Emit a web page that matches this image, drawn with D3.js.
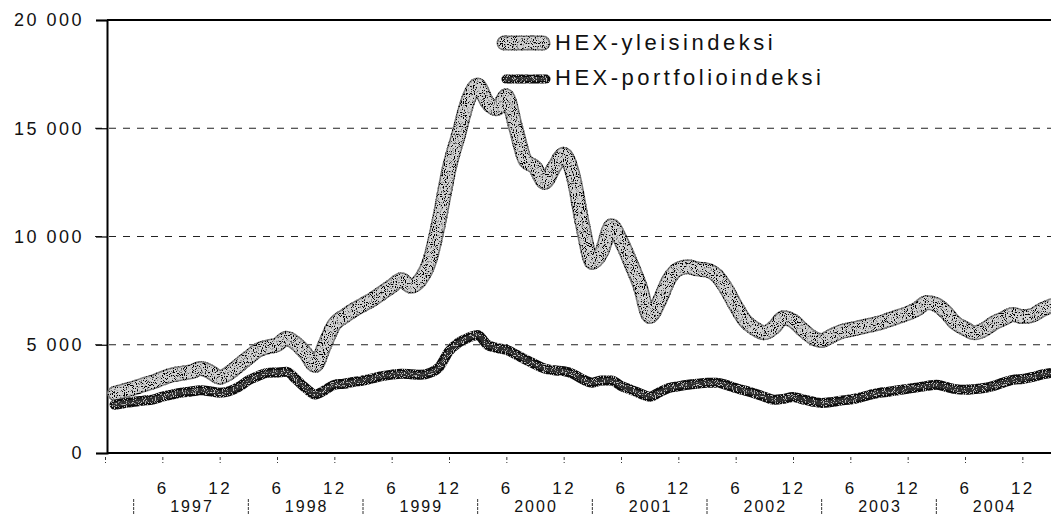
<!DOCTYPE html>
<html>
<head>
<meta charset="utf-8">
<script src="https://cdn.jsdelivr.net/npm/d3@7"></script>
<style>
  body { margin: 0; background: #fff; }
  text { font-family: "Liberation Sans", Arial, sans-serif; fill: #111; }
</style>
</head>
<body>
<svg id="chart" width="1051" height="515"></svg>
<script>
// month index 1..99 (0 = axis start, ticks every 6 months)
var months = d3.range(1, 100);

var yleis = [2750, 2880, 3000, 3150, 3280, 3450, 3600, 3680, 3750, 3900,
    3750, 3500, 3700, 4050, 4400, 4750, 4900, 5000, 5300, 5050,
    4600, 4050, 5000, 5950, 6300, 6600, 6850, 7100, 7400, 7700,
    8000, 7700, 8000, 8900, 10800, 13100, 14700, 16300, 17000, 16200,
    15900, 16500, 15000, 13500, 13200, 12500, 13200, 13800, 12800, 10500,
    8800, 9300, 10500, 9800, 8800, 7700, 6300, 7000, 8000, 8500,
    8600, 8500, 8450, 8200, 7600, 6800, 6100, 5750, 5550, 5800,
    6250, 6100, 5700, 5350, 5200, 5400, 5600, 5700, 5800, 5900,
    6000, 6150, 6300, 6450, 6650, 6950, 6850, 6500, 6000, 5750,
    5550, 5700, 6000, 6200, 6400, 6300, 6350, 6600, 6800];

var portfolio = [2230, 2300, 2370, 2420, 2470, 2600, 2700, 2790, 2840, 2900,
    2850, 2780, 2850, 3050, 3350, 3550, 3700, 3720, 3750, 3400,
    3000, 2700, 2900, 3150, 3200, 3280, 3350, 3450, 3550, 3620,
    3660, 3640, 3610, 3700, 3980, 4700, 5100, 5320, 5450, 5000,
    4850, 4770, 4550, 4320, 4100, 3900, 3820, 3780, 3650, 3400,
    3250, 3350, 3350, 3100, 2930, 2750, 2600, 2800, 3000, 3080,
    3150, 3200, 3240, 3240, 3150, 3000, 2880, 2750, 2600, 2460,
    2500, 2590, 2480, 2380, 2310, 2350, 2420, 2470, 2560, 2680,
    2780, 2830, 2900, 2960, 3030, 3100, 3150, 3050, 2950, 2920,
    2950, 3000, 3100, 3250, 3380, 3420, 3500, 3620, 3700];

var yTicks = [0, 5000, 10000, 15000, 20000];
var monthTicks = d3.range(0, 97, 6);
var years = ["1997", "1998", "1999", "2000", "2001", "2002", "2003", "2004"];
var legendNames = ["HEX-yleisindeksi", "HEX-portfolioindeksi"];

var svg = d3.select("#chart");
var x0 = 107, yTop = 20, yBot = 453;

var x = d3.scaleLinear().domain([0, 99]).range([105, 1051]);
var y = d3.scaleLinear().domain([0, 20000]).range([yBot, yTop]);

var fmt = d3.formatLocale({decimal: ",", thousands: " ", grouping: [3], currency: ["", ""]}).format(",");

// stipple texture for the thick lines
var defs = svg.append("defs");
function stipple(id, k, b, shade) {
    var f = defs.append("filter").attr("id", id)
        .attr("filterUnits", "userSpaceOnUse")
        .attr("x", 0).attr("y", 0).attr("width", 1051).attr("height", 515);
    f.append("feTurbulence").attr("type", "fractalNoise")
        .attr("baseFrequency", 0.9).attr("numOctaves", 1).attr("seed", 4).attr("result", "n");
    f.append("feColorMatrix").attr("in", "n").attr("type", "matrix")
        .attr("values", "0 0 0 0 " + shade + "  0 0 0 0 " + shade + "  0 0 0 0 " + shade + "  " + k + " 0 0 0 " + b)
        .attr("result", "dots");
    f.append("feComposite").attr("in", "dots").attr("in2", "SourceAlpha").attr("operator", "in").attr("result", "d2");
    var m = f.append("feMerge");
    m.append("feMergeNode").attr("in", "SourceGraphic");
    m.append("feMergeNode").attr("in", "d2");
}
stipple("grain1", 10, -5.2, 0);
stipple("grain2", 10, -5.6, 0.55);

// grid lines
svg.append("g").selectAll("line")
    .data(yTicks.filter(function(d) { return d > 0 && d < 20000; }))
    .enter().append("line")
    .attr("x1", 95).attr("x2", 1051)
    .attr("y1", function(d) { return y(d); })
    .attr("y2", function(d) { return y(d); })
    .attr("stroke", "#222").attr("stroke-width", 1.2)
    .attr("stroke-dasharray", "7,7");

// y axis
var yAxis = svg.append("g")
    .attr("transform", "translate(" + x0 + ",0)")
    .call(d3.axisLeft(y).tickValues(yTicks).tickSize(11).tickPadding(12).tickFormat(fmt));
yAxis.select(".domain").attr("stroke", "#000").attr("stroke-width", 2);
yAxis.selectAll(".tick line").attr("stroke", "#000").attr("stroke-width", 1.2);
yAxis.selectAll(".tick text")
    .style("font-size", "18px").style("letter-spacing", "2.5px")
    .style("font-family", "'Liberation Sans', Arial, sans-serif").attr("fill", "#111");

// top border
svg.append("line")
    .attr("x1", x0).attr("x2", 1051).attr("y1", y(20000)).attr("y2", y(20000))
    .attr("stroke", "#000").attr("stroke-width", 2);

// x axis
var xAxis = svg.append("g")
    .attr("transform", "translate(0," + yBot + ")")
    .call(d3.axisBottom(x).tickValues(monthTicks).tickSize(10)
        .tickFormat(function(d) { return d === 0 ? "" : (d % 12 === 6 ? "6" : "12"); }));
xAxis.select(".domain").attr("stroke", "#000").attr("stroke-width", 2)
    .attr("d", "M" + x0 + ",0H1051");
xAxis.selectAll(".tick line").attr("stroke", "#333").attr("stroke-width", 1)
    .attr("y1", 4).attr("stroke-dasharray", "3,2");
xAxis.selectAll(".tick text")
    .attr("y", 41).attr("dy", null)
    .style("font-size", "17px").style("letter-spacing", "2.5px")
    .style("font-family", "'Liberation Sans', Arial, sans-serif").attr("fill", "#111");

// years
var yr = svg.append("g");
yr.selectAll("line").data(years).enter().append("line")
    .attr("x1", function(d, i) { return x(3 + 12 * i); })
    .attr("x2", function(d, i) { return x(3 + 12 * i); })
    .attr("y1", 499).attr("y2", 514)
    .attr("stroke", "#333").attr("stroke-width", 1).attr("stroke-dasharray", "3,1");
yr.selectAll("text").data(years).enter().append("text")
    .attr("x", function(d, i) { return x(9 + 12 * i) + 1; })
    .attr("y", 512)
    .attr("text-anchor", "middle")
    .style("font-size", "16px").style("letter-spacing", "2px")
    .text(function(d) { return d; });

// lines
var line = d3.line()
    .x(function(d, i) { return x(months[i]); })
    .y(function(d) { return y(d); })
    .curve(d3.curveMonotoneX);

var g1 = svg.append("g").attr("filter", "url(#grain1)");
g1.append("path").datum(yleis).attr("d", line)
    .attr("fill", "none").attr("stroke", "#7a7a7a").attr("stroke-width", 15)
    .attr("stroke-linejoin", "round").attr("stroke-linecap", "round");
g1.append("path").datum(yleis).attr("d", line)
    .attr("fill", "none").attr("stroke", "#d2d2d2").attr("stroke-width", 12)
    .attr("stroke-linejoin", "round").attr("stroke-linecap", "round");

var g2 = svg.append("g").attr("filter", "url(#grain2)");
g2.append("path").datum(portfolio).attr("d", line)
    .attr("fill", "none").attr("stroke", "#0a0a0a").attr("stroke-width", 10)
    .attr("stroke-linejoin", "round").attr("stroke-linecap", "round");
g2.append("path").datum(portfolio).attr("d", line)
    .attr("fill", "none").attr("stroke", "#2e2e2e").attr("stroke-width", 5)
    .attr("stroke-linejoin", "round").attr("stroke-linecap", "round");

// legend
var lg = svg.append("g");
var l1 = lg.append("g").attr("filter", "url(#grain1)");
l1.append("line").attr("x1", 504).attr("x2", 543).attr("y1", 43).attr("y2", 43)
    .attr("stroke", "#7a7a7a").attr("stroke-width", 15).attr("stroke-linecap", "round");
l1.append("line").attr("x1", 504).attr("x2", 543).attr("y1", 43).attr("y2", 43)
    .attr("stroke", "#d2d2d2").attr("stroke-width", 12).attr("stroke-linecap", "round");
var l2 = lg.append("g").attr("filter", "url(#grain2)");
l2.append("line").attr("x1", 506).attr("x2", 546).attr("y1", 79).attr("y2", 79)
    .attr("stroke", "#0a0a0a").attr("stroke-width", 9).attr("stroke-linecap", "round");
l2.append("line").attr("x1", 506).attr("x2", 546).attr("y1", 79).attr("y2", 79)
    .attr("stroke", "#2e2e2e").attr("stroke-width", 4).attr("stroke-linecap", "round");
lg.selectAll("text").data(legendNames).enter().append("text")
    .attr("x", 555)
    .attr("y", function(d, i) { return 50 + i * 35; })
    .style("font-size", "22px").style("letter-spacing", "3.5px")
    .text(function(d) { return d; });
</script>
</body>
</html>
